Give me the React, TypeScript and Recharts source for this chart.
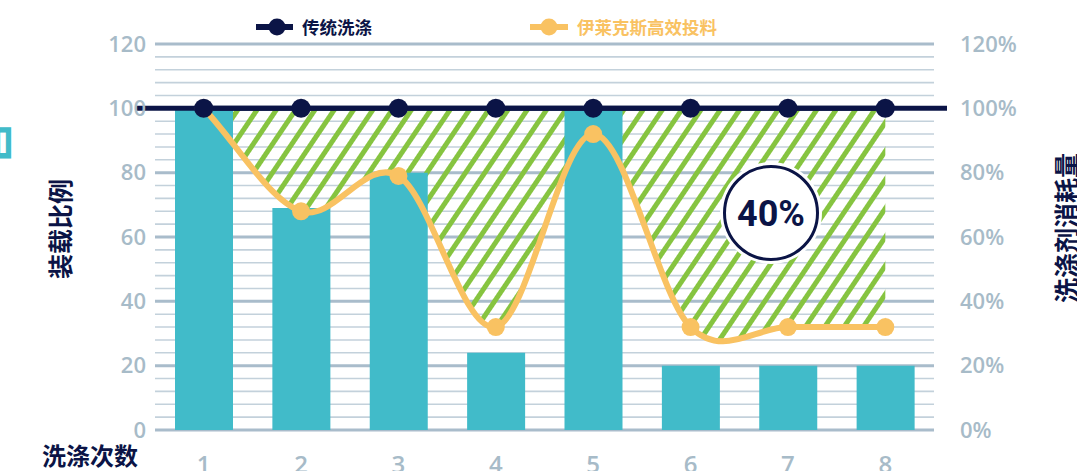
import React from 'react';
import { ComposedChart, Bar, Line, Area, XAxis, YAxis, CartesianGrid, ReferenceLine } from 'recharts';

const washCounts = ['1', '2', '3', '4', '5', '6', '7', '8'];
const loadRatio = [100, 69, 80, 24, 100, 20, 20, 20];
const traditionalUse = [100, 100, 100, 100, 100, 100, 100, 100];
const electroluxUse = [100, 68, 79, 32, 92, 32, 32, 32];
const majorTicks = [0, 20, 40, 60, 80, 100, 120];
const minorTicks = [4, 8, 12, 16, 24, 28, 32, 36, 44, 48, 52, 56, 64, 68, 72, 76, 84, 88, 92, 96, 104, 108, 112, 116];
const seriesNames = ['传统洗涤', '伊莱克斯高效投料'];
const leftTitle = '装载比例';
const rightTitle = '洗涤剂消耗量';
const xTitle = '洗涤次数';
const savingLabel = '40%';

const NAVY = '#0b1446';
const YELLOW = '#f9c262';
const CYAN = '#41bbc9';
const GREEN = '#86c440';
const TICK = '#a7bbc8';
const CJK = '"Noto Sans CJK SC", sans-serif';
const NUM = '"Open Sans", sans-serif';

const data = washCounts.map((c, i) => ({
  wash: c,
  load: loadRatio[i],
  traditional: traditionalUse[i],
  electrolux: electroluxUse[i],
  saving: [electroluxUse[i], traditionalUse[i]],
}));

// Catmull-Rom smoothing with reflected end points, as a d3-compatible curve factory
class SmoothCurve {
  _context: any; _k: number; _line: number = NaN; _point = 0;
  _x0 = NaN; _x1 = NaN; _x2 = NaN; _y0 = NaN; _y1 = NaN; _y2 = NaN;
  constructor(context: any) { this._context = context; this._k = 1 / 6; }
  _bez(x: number, y: number) {
    this._context.bezierCurveTo(
      this._x1 + this._k * (this._x2 - this._x0),
      this._y1 + this._k * (this._y2 - this._y0),
      this._x2 + this._k * (this._x1 - x),
      this._y2 + this._k * (this._y1 - y),
      this._x2,
      this._y2,
    );
  }
  areaStart() { this._line = 0; }
  areaEnd() { this._line = NaN; }
  lineStart() {
    this._x0 = this._x1 = this._x2 = this._y0 = this._y1 = this._y2 = NaN;
    this._point = 0;
  }
  lineEnd() {
    switch (this._point) {
      case 2: this._context.lineTo(this._x2, this._y2); break;
      case 3: this._bez(2 * this._x2 - this._x1, 2 * this._y2 - this._y1); break;
    }
    if (this._line || (this._line !== 0 && this._point === 1)) this._context.closePath();
    this._line = 1 - this._line;
  }
  point(x: number, y: number) {
    x = +x; y = +y;
    switch (this._point) {
      case 0: this._point = 1; if (this._line) this._context.lineTo(x, y); else this._context.moveTo(x, y); break;
      case 1: this._point = 2; this._x1 = 2 * this._x2 - x; this._y1 = 2 * this._y2 - y; break;
      case 2: this._point = 3; this._bez(x, y); break;
      default: this._bez(x, y); break;
    }
    this._x0 = this._x1; this._x1 = this._x2; this._x2 = x;
    this._y0 = this._y1; this._y1 = this._y2; this._y2 = y;
  }
}
const smooth: any = (context: any) => new SmoothCurve(context);

const tickStyle = { fill: TICK, fontSize: 22, fontFamily: NUM, fontWeight: 600 };

const minorGen = (props: any) => {
  const ax = props && props.yAxis;
  if (ax && typeof ax.scale === 'function') return minorTicks.map((v) => ax.scale(v));
  const o = props.offset;
  return minorTicks.map((v) => o.top + (o.height * (120 - v)) / 120);
};

export default function App() {
  return (
    <div style={{ position: 'absolute', left: 0, top: 0, width: 1077, height: 471, background: '#fff', overflow: 'hidden' }}>
      <ComposedChart width={1077} height={471} data={data} margin={{ top: 44, right: 0, bottom: 0, left: 0 }}>
        <defs>
          <pattern id="hatch" patternUnits="userSpaceOnUse" width="16" height="16" patternTransform="rotate(34)">
            <rect x="0" y="0" width="5" height="16" fill={GREEN} />
          </pattern>
        </defs>
        <CartesianGrid yAxisId="left" vertical={false} stroke="#c3d1db" strokeWidth={1.6} horizontalCoordinatesGenerator={minorGen} />
        <CartesianGrid yAxisId="left" vertical={false} stroke="#a9bccb" strokeWidth={3} />
        <XAxis dataKey="wash" height={41} axisLine={false} tickLine={false} tickSize={0} tickMargin={26} tick={{ ...tickStyle, fontSize: 24 }} interval={0} />
        <YAxis yAxisId="left" orientation="left" width={155} domain={[0, 120]} ticks={majorTicks} interval={0} axisLine={false} tickLine={false} tickSize={0} tickMargin={9} tick={tickStyle} />
        <YAxis yAxisId="right" orientation="right" width={143} domain={[0, 120]} ticks={majorTicks} interval={0} axisLine={false} tickLine={false} tickSize={0} tickMargin={26} tick={{ ...tickStyle, textAnchor: 'start' }} tickFormatter={(v) => `${v}%`} />
        <Bar yAxisId="left" dataKey="load" fill={CYAN} barSize={58} isAnimationActive={false} />
        <Area yAxisId="right" dataKey="saving" type={smooth} fill="url(#hatch)" fillOpacity={1} stroke="none" isAnimationActive={false} activeDot={false} />
        <Line yAxisId="right" dataKey="electrolux" type={smooth} stroke={YELLOW} strokeWidth={6} dot={{ r: 9, fill: YELLOW, stroke: 'none' }} activeDot={false} isAnimationActive={false} />
        <ReferenceLine
          yAxisId="right"
          y={100}
          shape={(p: any) => <line x1={p.x1 + 13} x2={p.x2 - 19} y1={p.y1} y2={p.y2} stroke={NAVY} strokeWidth={5} />}
        />
        <Line yAxisId="right" dataKey="traditional" type="linear" stroke={NAVY} strokeWidth={5} dot={{ r: 9.5, fill: NAVY, stroke: 'none' }} activeDot={false} isAnimationActive={false} />
      </ComposedChart>
      <svg width={1077} height={471} style={{ position: 'absolute', left: 0, top: 0, pointerEvents: 'none' }}>
        <text x={-25} y={143} fill={CYAN} fontFamily={CJK} fontWeight={700} fontSize={44} transform="rotate(90 -25 143)" textAnchor="middle">目</text>
        <line x1={256} x2={293} y1={27} y2={27} stroke={NAVY} strokeWidth={6} />
        <circle cx={277} cy={27} r={8.5} fill={NAVY} />
        <text x={302} y={34} fill={NAVY} fontFamily={CJK} fontWeight={700} fontSize={17.5}>{seriesNames[0]}</text>
        <line x1={530} x2={568} y1={27} y2={27} stroke={YELLOW} strokeWidth={6} />
        <circle cx={549} cy={27} r={8.5} fill={YELLOW} />
        <text x={577} y={34} fill={YELLOW} fontFamily={CJK} fontWeight={700} fontSize={17.5}>{seriesNames[1]}</text>
        <text x={59} y={229} fill={NAVY} fontFamily={CJK} fontWeight={700} fontSize={25} textAnchor="middle" dominantBaseline="central" transform="rotate(-90 59 229)">{leftTitle}</text>
        <text x={1065} y={228} fill={NAVY} fontFamily={CJK} fontWeight={700} fontSize={25} textAnchor="middle" dominantBaseline="central" transform="rotate(-90 1065 228)">{rightTitle}</text>
        <text x={42} y={465} fill={NAVY} fontFamily={CJK} fontWeight={700} fontSize={24}>{xTitle}</text>
        <circle cx={771} cy={213} r={51} fill="#fff" />
        <circle cx={771} cy={213} r={46.5} fill="#fff" stroke={NAVY} strokeWidth={3} />
        <text x={771} y={214} fill={NAVY} fontFamily='"Roboto", sans-serif' fontWeight={700} fontSize={36} textAnchor="middle" dominantBaseline="central">{savingLabel}</text>
      </svg>
    </div>
  );
}
